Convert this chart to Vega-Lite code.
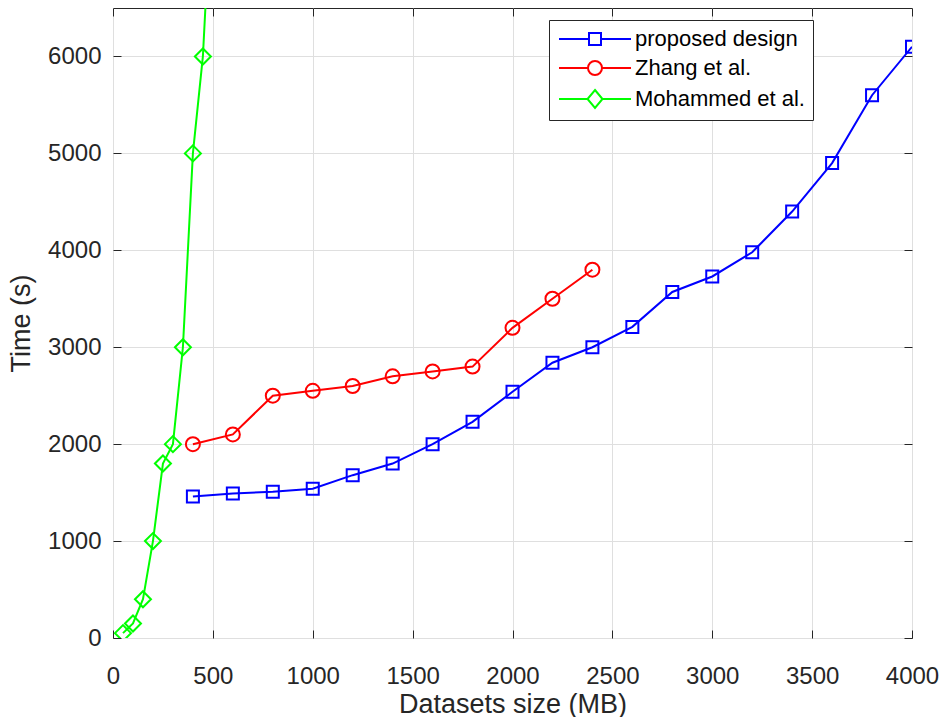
{
  "$schema": "https://vega.github.io/schema/vega-lite/v6.json",
  "width": 799,
  "height": 630,
  "autosize": "none",
  "padding": {"left": 113, "top": 8, "right": 28, "bottom": 79},
  "background": "white",
  "config": {
    "view": {"stroke": "#262626", "strokeWidth": 1},
    "font": "Liberation Sans",
    "axis": {
      "labelFont": "Liberation Sans",
      "titleFont": "Liberation Sans",
      "labelFontSize": 24,
      "titleFontSize": 27,
      "labelColor": "#262626",
      "titleColor": "#262626",
      "titleFontWeight": "normal",
      "tickColor": "#262626",
      "tickSize": -8,
      "tickWidth": 1,
      "domain": false,
      "gridColor": "#dfdfdf",
      "gridWidth": 1,
      "format": "d",
      "labelFlush": false
    },
    "legend": {"labelFont": "Liberation Sans"}
  },
  "data": {
    "values": [
      {"s": "proposed design", "x": 400, "y": 1460},
      {"s": "proposed design", "x": 600, "y": 1490},
      {"s": "proposed design", "x": 800, "y": 1510},
      {"s": "proposed design", "x": 1000, "y": 1540},
      {"s": "proposed design", "x": 1200, "y": 1680},
      {"s": "proposed design", "x": 1400, "y": 1800},
      {"s": "proposed design", "x": 1600, "y": 2000},
      {"s": "proposed design", "x": 1800, "y": 2230},
      {"s": "proposed design", "x": 2000, "y": 2540},
      {"s": "proposed design", "x": 2200, "y": 2840},
      {"s": "proposed design", "x": 2400, "y": 3000},
      {"s": "proposed design", "x": 2600, "y": 3210},
      {"s": "proposed design", "x": 2800, "y": 3570},
      {"s": "proposed design", "x": 3000, "y": 3730},
      {"s": "proposed design", "x": 3200, "y": 3980},
      {"s": "proposed design", "x": 3400, "y": 4400},
      {"s": "proposed design", "x": 3600, "y": 4900},
      {"s": "proposed design", "x": 3800, "y": 5600},
      {"s": "proposed design", "x": 4000, "y": 6100},
      {"s": "Zhang et al.", "x": 400, "y": 2000},
      {"s": "Zhang et al.", "x": 600, "y": 2100},
      {"s": "Zhang et al.", "x": 800, "y": 2500},
      {"s": "Zhang et al.", "x": 1000, "y": 2550},
      {"s": "Zhang et al.", "x": 1200, "y": 2600},
      {"s": "Zhang et al.", "x": 1400, "y": 2700},
      {"s": "Zhang et al.", "x": 1600, "y": 2750},
      {"s": "Zhang et al.", "x": 1800, "y": 2800},
      {"s": "Zhang et al.", "x": 2000, "y": 3200},
      {"s": "Zhang et al.", "x": 2200, "y": 3500},
      {"s": "Zhang et al.", "x": 2400, "y": 3800},
      {"s": "Mohammed et al.", "x": 50, "y": 50},
      {"s": "Mohammed et al.", "x": 100, "y": 150},
      {"s": "Mohammed et al.", "x": 150, "y": 400},
      {"s": "Mohammed et al.", "x": 200, "y": 1000},
      {"s": "Mohammed et al.", "x": 250, "y": 1800},
      {"s": "Mohammed et al.", "x": 300, "y": 2000},
      {"s": "Mohammed et al.", "x": 350, "y": 3000},
      {"s": "Mohammed et al.", "x": 400, "y": 5000},
      {"s": "Mohammed et al.", "x": 450, "y": 6000},
      {"s": "Mohammed et al.", "x": 500, "y": 8000}
    ]
  },
  "layer": [
    {
      "mark": {"type": "line", "strokeWidth": 2, "clip": true},
      "encoding": {
        "x": {"field": "x", "type": "quantitative", "scale": {"domain": [0, 4000], "nice": false},
              "axis": {"orient": "bottom", "values": [0,500,1000,1500,2000,2500,3000,3500,4000], "title": "Datasets size (MB)", "grid": true, "labelPadding": 34, "titlePadding": 3}},
        "y": {"field": "y", "type": "quantitative", "scale": {"domain": [0, 6500], "nice": false},
              "axis": {"orient": "left", "values": [0,1000,2000,3000,4000,5000,6000], "title": "Time (s)", "grid": true, "labelPadding": 20, "titlePadding": 12}},
        "color": {"field": "s", "type": "nominal", "scale": {"domain": ["proposed design", "Zhang et al.", "Mohammed et al."], "range": ["#0000ff", "#ff0000", "#00ff00"]},
          "legend": {"title": null, "orient": "none", "legendX": 436, "legendY": 12, "labelFontSize": 22, "labelColor": "#000000", "labelOffset": 56, "labelLimit": 400, "padding": 8, "rowPadding": 6, "fillColor": "white", "strokeColor": "#262626", "symbolSize": 324, "symbolStrokeWidth": 2, "symbolOpacity": 1, "symbolFillColor": "transparent"}},
        "detail": {"field": "s"}
      }
    },
    {
      "transform": [{"filter": "datum.s === 'proposed design'"}],
      "mark": {"type": "point", "shape": "square", "size": 144, "filled": false, "strokeWidth": 2, "clip": true, "opacity": 1},
      "encoding": {
        "x": {"field": "x", "type": "quantitative", "axis": null},
        "y": {"field": "y", "type": "quantitative", "axis": null},
        "color": {"field": "s", "type": "nominal",
          "legend": {"title": null, "orient": "none", "legendX": 436, "legendY": 12, "labelFontSize": 22, "labelColor": "#000000", "labelOffset": 56, "labelLimit": 400, "padding": 8, "rowPadding": 6, "fillColor": "white", "strokeColor": "#262626", "symbolSize": 324, "symbolStrokeWidth": 2, "symbolOpacity": 1, "symbolFillColor": "transparent"}}
      }
    },
    {
      "transform": [{"filter": "datum.s === 'Zhang et al.'"}],
      "mark": {"type": "point", "shape": "circle", "size": 196, "filled": false, "strokeWidth": 2, "clip": true, "opacity": 1},
      "encoding": {
        "x": {"field": "x", "type": "quantitative", "axis": null},
        "y": {"field": "y", "type": "quantitative", "axis": null},
        "color": {"field": "s", "type": "nominal",
          "legend": {"title": null, "orient": "none", "legendX": 436, "legendY": 12, "labelFontSize": 22, "labelColor": "#000000", "labelOffset": 56, "labelLimit": 400, "padding": 8, "rowPadding": 6, "fillColor": "white", "strokeColor": "#262626", "symbolSize": 324, "symbolStrokeWidth": 2, "symbolOpacity": 1, "symbolFillColor": "transparent"}}
      }
    },
    {
      "transform": [{"filter": "datum.s === 'Mohammed et al.'"}],
      "mark": {"type": "point", "shape": "diamond", "size": 256, "filled": false, "strokeWidth": 2, "clip": true, "opacity": 1},
      "encoding": {
        "x": {"field": "x", "type": "quantitative", "axis": null},
        "y": {"field": "y", "type": "quantitative", "axis": null},
        "color": {"field": "s", "type": "nominal",
          "legend": {"title": null, "orient": "none", "legendX": 436, "legendY": 12, "labelFontSize": 22, "labelColor": "#000000", "labelOffset": 56, "labelLimit": 400, "padding": 8, "rowPadding": 6, "fillColor": "white", "strokeColor": "#262626", "symbolSize": 324, "symbolStrokeWidth": 2, "symbolOpacity": 1, "symbolFillColor": "transparent"}}
      }
    },
    {
      "mark": {"type": "point", "opacity": 0, "filled": false, "clip": true},
      "encoding": {
        "x": {"field": "x", "type": "quantitative", "axis": {"orient": "top", "values": [0,500,1000,1500,2000,2500,3000,3500,4000], "labels": false, "title": null, "grid": false}},
        "y": {"field": "y", "type": "quantitative", "axis": {"orient": "right", "values": [0,1000,2000,3000,4000,5000,6000], "labels": false, "title": null, "grid": false}},
        "color": {"field": "s", "type": "nominal",
          "legend": {"title": null, "orient": "none", "legendX": 436, "legendY": 12, "labelFontSize": 22, "labelColor": "#000000", "labelOffset": 56, "labelLimit": 400, "padding": 8, "rowPadding": 6, "fillColor": "white", "strokeColor": "#262626", "symbolSize": 324, "symbolStrokeWidth": 2, "symbolOpacity": 1, "symbolFillColor": "transparent"}},
        "shape": {"field": "s", "type": "nominal", "scale": {"domain": ["proposed design", "Zhang et al.", "Mohammed et al."], "range": [
          "M-1,0H2.333M3.667,0H7M2.333,-0.667H3.667V0.667H2.333Z",
          "M-1,0H2.222M3.778,0H7M3.778,0A0.778,0.778 0 1,1 2.222,0A0.778,0.778 0 1,1 3.778,0Z",
          "M-1,0H2.167M3.833,0H7M3,-1L3.833,0L3,1L2.167,0Z"]}, "legend": null}
      }
    }
  ],
  "resolve": {"axis": {"x": "independent", "y": "independent"}}
}
